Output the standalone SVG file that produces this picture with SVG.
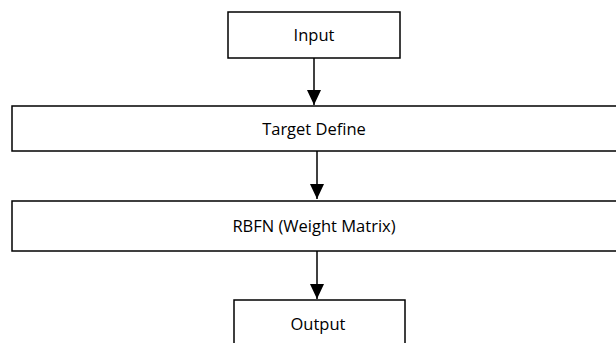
<svg xmlns="http://www.w3.org/2000/svg" width="616" height="343" viewBox="0 0 616 343">
<style>
.box{fill:#fff;stroke:#000;stroke-width:1.5}
.lbl{font-family:"Open Sans","Liberation Sans",sans-serif;font-size:16.5px;fill:#000;text-anchor:middle}
.edge{stroke:#000;stroke-width:1.5;fill:none}
</style>
<defs>
<marker id="ah" viewBox="0 0 15 14" refX="15" refY="7" markerWidth="15" markerHeight="14" markerUnits="userSpaceOnUse" orient="auto">
<path d="M0,0 L15,7 L0,14 z" fill="#000"/>
</marker>
</defs>
<rect width="616" height="343" fill="#fff"/>
<g id="input"><rect class="box" x="228" y="12" width="172" height="46"/><text class="lbl" x="314" y="41">Input</text></g>
<g id="target"><rect class="box" x="12" y="106" width="610" height="45"/><text class="lbl" x="314" y="135">Target Define</text></g>
<g id="rbfn"><rect class="box" x="12" y="201" width="610" height="50"/><text class="lbl" x="314" y="232">RBFN (Weight Matrix)</text></g>
<g id="output"><rect class="box" x="234" y="300" width="171" height="50"/><text class="lbl" x="318" y="330">Output</text></g>
<g id="connectors">
<line class="edge" x1="314" y1="58" x2="314" y2="105" marker-end="url(#ah)"/>
<line class="edge" x1="317" y1="151" x2="317" y2="199" marker-end="url(#ah)"/>
<line class="edge" x1="317" y1="251" x2="317" y2="299" marker-end="url(#ah)"/>
</g>
</svg>
